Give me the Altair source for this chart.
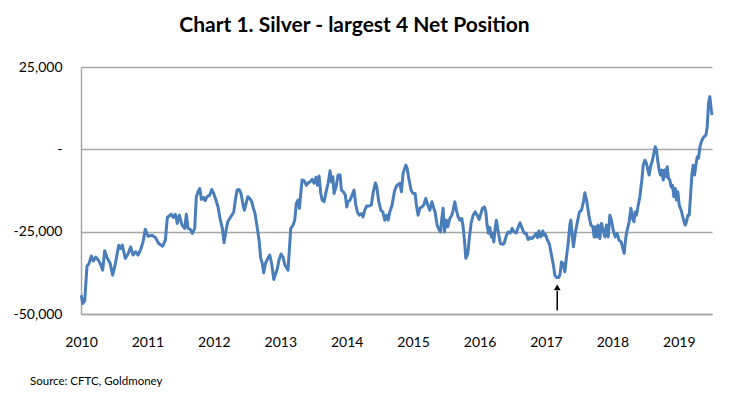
import altair as alt
import pandas as pd

# ---- data (decimal year, net position in contracts) ----
years = [
    2010.005, 2010.026, 2010.056, 2010.090, 2010.120, 2010.155, 2010.185, 2010.221, 2010.256, 2010.286,
    2010.327, 2010.357, 2010.396, 2010.437, 2010.477, 2010.517, 2010.568, 2010.598, 2010.622, 2010.667,
    2010.708, 2010.748, 2010.783, 2010.824, 2010.858, 2010.899, 2010.934, 2010.968, 2011.009, 2011.069,
    2011.119, 2011.170, 2011.230, 2011.270, 2011.300, 2011.360, 2011.390, 2011.420, 2011.450, 2011.480,
    2011.521, 2011.562, 2011.586, 2011.611, 2011.646, 2011.676, 2011.712, 2011.736, 2011.762, 2011.788,
    2011.812, 2011.848, 2011.867, 2011.898, 2011.938, 2011.968, 2011.998, 2012.029, 2012.063, 2012.098,
    2012.128, 2012.154, 2012.179, 2012.209, 2012.239, 2012.270, 2012.300, 2012.324, 2012.349, 2012.380,
    2012.410, 2012.440, 2012.459, 2012.480, 2012.511, 2012.541, 2012.571, 2012.590, 2012.620, 2012.651,
    2012.681, 2012.706, 2012.730, 2012.751, 2012.776, 2012.812, 2012.842, 2012.872, 2012.902, 2012.932,
    2012.956, 2012.982, 2013.012, 2013.042, 2013.072, 2013.117, 2013.158, 2013.193, 2013.218, 2013.242,
    2013.268, 2013.288, 2013.309, 2013.328, 2013.358, 2013.393, 2013.419, 2013.449, 2013.479, 2013.509,
    2013.539, 2013.559, 2013.584, 2013.610, 2013.630, 2013.660, 2013.690, 2013.720, 2013.750, 2013.770,
    2013.791, 2013.810, 2013.840, 2013.870, 2013.901, 2013.920, 2013.950, 2013.980, 2014.001, 2014.021,
    2014.051, 2014.081, 2014.111, 2014.137, 2014.161, 2014.191, 2014.221, 2014.246, 2014.271, 2014.301,
    2014.340, 2014.371, 2014.401, 2014.432, 2014.453, 2014.483, 2014.514, 2014.544, 2014.574, 2014.604,
    2014.624, 2014.649, 2014.684, 2014.714, 2014.724, 2014.759, 2014.800, 2014.824, 2014.849, 2014.890,
    2014.910, 2014.940, 2014.970, 2015.000, 2015.030, 2015.050, 2015.075, 2015.101, 2015.131, 2015.161,
    2015.191, 2015.221, 2015.252, 2015.282, 2015.312, 2015.331, 2015.361, 2015.392, 2015.411, 2015.432,
    2015.452, 2015.471, 2015.502, 2015.523, 2015.553, 2015.583, 2015.602, 2015.628, 2015.652, 2015.678,
    2015.703, 2015.733, 2015.753, 2015.773, 2015.794, 2015.824, 2015.843, 2015.873, 2015.904, 2015.934,
    2015.964, 2015.994, 2016.013, 2016.044, 2016.074, 2016.095, 2016.114, 2016.134, 2016.155, 2016.179,
    2016.194, 2016.215, 2016.235, 2016.254, 2016.285, 2016.315, 2016.355, 2016.370, 2016.405, 2016.431,
    2016.461, 2016.491, 2016.521, 2016.551, 2016.581, 2016.611, 2016.642, 2016.672, 2016.702, 2016.732,
    2016.762, 2016.792, 2016.822, 2016.852, 2016.872, 2016.893, 2016.923, 2016.953, 2016.973, 2016.992,
    2017.023, 2017.053, 2017.083, 2017.113, 2017.134, 2017.158, 2017.194, 2017.214, 2017.233, 2017.259,
    2017.285, 2017.309, 2017.334, 2017.360, 2017.375, 2017.395, 2017.414, 2017.444, 2017.474, 2017.505,
    2017.535, 2017.565, 2017.586, 2017.616, 2017.646, 2017.676, 2017.706, 2017.726, 2017.746, 2017.767,
    2017.786, 2017.812, 2017.836, 2017.861, 2017.887, 2017.911, 2017.937, 2017.962, 2017.986, 2018.012,
    2018.042, 2018.072, 2018.102, 2018.133, 2018.152, 2018.178, 2018.203, 2018.223, 2018.253, 2018.279,
    2018.303, 2018.324, 2018.343, 2018.363, 2018.384, 2018.414, 2018.444, 2018.464, 2018.489, 2018.514,
    2018.535, 2018.554, 2018.574, 2018.604, 2018.625, 2018.645, 2018.664, 2018.685, 2018.705, 2018.724,
    2018.745, 2018.765, 2018.784, 2018.805, 2018.825, 2018.845, 2018.865, 2018.885, 2018.905, 2018.926,
    2018.946, 2018.965, 2018.986, 2019.006, 2019.036, 2019.066, 2019.096, 2019.116, 2019.136, 2019.157,
    2019.176, 2019.197, 2019.217, 2019.237, 2019.257, 2019.277, 2019.297, 2019.318, 2019.348, 2019.378,
    2019.408, 2019.428, 2019.447, 2019.468, 2019.488, 2019.500,
]
net_position = [
    -44300, -46800, -46000, -35500, -34700, -32400, -33900, -32700, -33500, -34500,
    -36700, -30800, -33100, -34500, -38200, -34700, -29100, -30100, -29100, -33100,
    -31800, -29600, -32100, -31100, -32100, -30400, -28100, -24300, -26400, -26100,
    -26800, -28600, -29400, -27600, -20700, -19700, -20700, -19700, -22500, -20000,
    -23000, -24000, -19700, -24000, -24300, -25500, -24000, -14400, -12900, -11900,
    -15200, -14600, -15600, -14400, -13900, -12200, -13400, -15200, -17500, -21500,
    -24000, -28400, -25100, -22000, -21000, -20000, -19000, -15400, -12400, -12200,
    -13400, -16900, -18500, -16900, -14400, -14900, -15900, -17500, -19500, -23500,
    -27600, -33100, -34700, -37500, -34700, -33100, -32100, -34900, -39500, -37700,
    -36200, -33500, -31800, -32800, -35200, -36700, -24000, -23000, -21500, -16400,
    -15400, -17900, -13400, -9300, -9500, -10900, -10200, -9900, -9100, -10300,
    -8500, -10900, -8100, -13400, -15400, -15900, -12900, -10300, -6500, -9900,
    -8300, -13400, -11400, -7800, -7800, -12400, -12900, -13900, -17500, -15900,
    -15400, -13900, -12400, -16900, -19000, -20000, -19500, -20500, -18500, -17200,
    -17200, -16900, -12900, -10200, -11400, -15900, -18500, -19000, -21500, -20000,
    -21500, -19000, -16900, -13400, -12400, -10900, -10300, -12900, -7300, -4800,
    -5800, -9300, -12400, -13400, -13400, -16900, -20000, -17900, -17500, -16900,
    -14900, -16900, -18500, -15900, -17900, -19000, -23000, -24500, -25100, -21000,
    -17900, -25100, -21500, -23500, -21000, -20000, -18500, -15900, -18500, -20500,
    -21500, -21000, -23500, -27600, -33100, -31600, -27600, -22500, -20000, -19000,
    -20000, -21300, -20000, -17900, -17500, -19000, -23000, -25500, -23700, -26600,
    -25500, -28100, -24000, -21500, -25500, -28600, -28800, -28600, -26100, -25100,
    -25400, -24000, -25100, -25400, -23700, -22300, -24000, -25500, -25500, -27400,
    -26800, -27100, -26400, -25500, -26800, -24800, -26600, -24800, -26100, -25800,
    -27600, -28800, -32100, -35200, -38200, -38900, -38900, -37700, -34200, -34700,
    -37200, -32700, -28600, -23000, -21500, -26100, -29600, -25100, -22000, -19000,
    -18500, -15900, -13200, -15900, -20000, -23000, -23500, -26600, -23500, -26600,
    -23000, -27100, -22500, -24500, -26600, -23000, -26600, -20000, -21500, -24500,
    -26600, -25500, -27600, -28100, -29600, -31600, -26600, -24500, -22000, -17900,
    -21000, -22000, -19000, -20000, -17500, -14400, -9300, -4800, -3300, -4300,
    -6300, -7800, -5300, -3300, -1200, 800, -200, -3800, -6300, -7800,
    -6300, -9300, -6300, -8300, -5300, -8800, -9300, -11400, -10900, -14400,
    -11900, -15400, -12900, -16900, -18500, -21000, -23000, -22000, -20000, -20000,
    -14400, -7800, -4800, -7800, -4800, -2300, -2700, 800, 2800, 3800,
    4300, 6900, 14000, 16000, 12000, 10400,
]

year_ticks = [2010, 2011, 2012, 2013, 2014, 2015, 2016, 2017, 2018, 2019]
value_ticks = [-50000, -25000, 0, 25000]

# arrow annotation (early 2017 low)
arrow_year = [2017.17]
arrow_from = [-48900]
arrow_to = [-43000]
arrow_tip = [-41900]

title_text = "Chart 1. Silver - largest 4 Net Position"
source_text = ["Source: CFTC, Goldmoney"]

FONT = "Lato"
GRID = "#A6A6A6"

df = pd.DataFrame({"year": years, "net": net_position})
arrow_df = pd.DataFrame({"year": arrow_year, "y0": arrow_from, "y1": arrow_to, "tip": arrow_tip})
src_df = pd.DataFrame({"t": source_text})

x_scale = alt.Scale(domain=[2010, 2019.5], nice=False, zero=False)
y_scale = alt.Scale(domain=[-50000, 25000], nice=False)

x_axis = alt.Axis(
    values=year_ticks, format="d", grid=False, ticks=False, title=None,
    labelFont=FONT, labelFontSize=14, labelColor="#000000", labelPadding=21,
    domainColor=GRID, domainWidth=1.5, labelFlush=False,
)
y_axis = alt.Axis(
    values=value_ticks, title=None, ticks=False,
    labelExpr="datum.value == 0 ? '-\u00a0\u00a0\u00a0' : (datum.value < 0 ? '-' + format(-datum.value, ',') : format(datum.value, ','))",
    labelFont=FONT, labelFontSize=14, labelColor="#000000", labelPadding=19,
    grid=True, gridColor=GRID, gridWidth=1.5,
    domainColor=GRID, domainWidth=1.5,
)

line = alt.Chart(df).mark_line(color="#4A7EBB", strokeWidth=3, strokeJoin="round").encode(
    x=alt.X("year:Q", scale=x_scale, axis=x_axis),
    y=alt.Y("net:Q", scale=y_scale, axis=y_axis),
)

arrow_shaft = alt.Chart(arrow_df).mark_rule(color="#000000", strokeWidth=1.5).encode(
    x=alt.X("year:Q", scale=x_scale),
    y=alt.Y("y0:Q", scale=y_scale),
    y2="y1:Q",
)
arrow_head = alt.Chart(arrow_df).mark_point(
    shape="triangle-up", filled=True, color="#000000", size=45, opacity=1
).encode(
    x=alt.X("year:Q", scale=x_scale),
    y=alt.Y("tip:Q", scale=y_scale),
)

source = alt.Chart(src_df).mark_text(
    align="left", baseline="middle", font=FONT, fontSize=11.5, color="#000000"
).encode(text="t:N", x=alt.value(-51), y=alt.value(315))

chart = alt.layer(line, arrow_shaft, arrow_head, source).properties(
    width=631,
    height=247,
    autosize=alt.AutoSizeParams(type="none"),
    padding={"left": 73, "top": 59, "right": 12, "bottom": 82},
    title=alt.TitleParams(
        text=title_text, anchor="middle", dx=-42, offset=24,
        font=FONT, fontSize=21, fontWeight="bold", color="#000000",
    ),
).configure(background="white").configure_view(stroke=None)

chart.save("out.html", embed_options={"renderer": "svg", "actions": False})
